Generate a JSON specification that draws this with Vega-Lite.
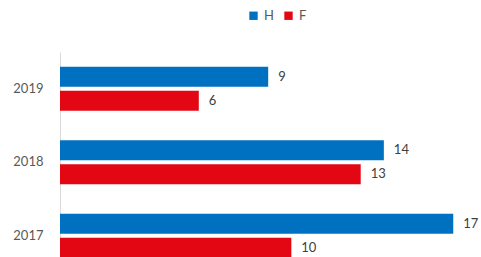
{
  "$schema": "https://vega.github.io/schema/vega-lite/v6.json",
  "width": 421,
  "height": 220.5,
  "autosize": {"type": "none"},
  "padding": {"left": 60, "top": 52, "right": 0, "bottom": 0},
  "background": "white",
  "config": {"view": {"stroke": null}, "font": "Lato"},
  "data": {"values": [
    {"year": "2019", "sex": "H", "value": 9},
    {"year": "2019", "sex": "F", "value": 6},
    {"year": "2018", "sex": "H", "value": 14},
    {"year": "2018", "sex": "F", "value": 13},
    {"year": "2017", "sex": "H", "value": 17},
    {"year": "2017", "sex": "F", "value": 10}
  ]},
  "encoding": {
    "y": {"field": "year", "type": "nominal", "sort": ["2019", "2018", "2017"],
      "scale": {"paddingInner": 0.4, "paddingOuter": 0.2},
      "axis": {"title": null, "ticks": false, "labelPadding": 17, "labelFontSize": 13, "labelColor": "#595959", "domainColor": "#d9d9d9", "domainWidth": 1}},
    "yOffset": {"field": "sex", "type": "nominal", "sort": ["H", "F"], "scale": {"paddingInner": 0.167, "paddingOuter": 0}},
    "x": {"field": "value", "type": "quantitative", "scale": {"domain": [0, 18.2], "nice": false}, "axis": null}
  },
  "layer": [
    {"mark": {"type": "bar"},
     "encoding": {"color": {"field": "sex", "type": "nominal", "sort": ["H", "F"],
       "scale": {"domain": ["H", "F"], "range": ["#0070C0", "#E30613"]},
       "legend": {"title": null, "orient": "none", "legendX": 187, "legendY": -43, "direction": "horizontal", "symbolType": "square", "symbolSize": 70, "labelFontSize": 13, "labelColor": "#595959", "columnPadding": 8, "labelOffset": 4}}}},
    {"mark": {"type": "text", "align": "left", "dx": 10, "fontSize": 13, "color": "#404040", "baseline": "middle"},
     "encoding": {"text": {"field": "value", "type": "quantitative"}}}
  ]
}
